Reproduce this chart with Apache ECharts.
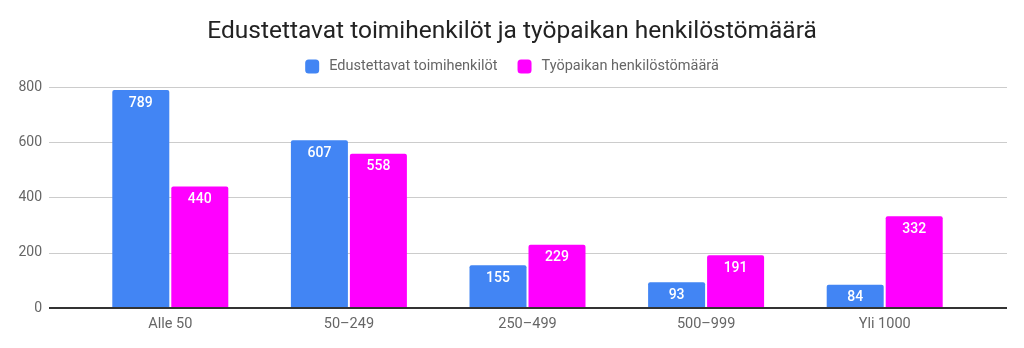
<!DOCTYPE html>
<html>
<head>
<meta charset="utf-8">
<script src="https://cdn.jsdelivr.net/npm/echarts@6/dist/echarts.min.js"></script>
<style>
  html, body { margin: 0; padding: 0; background: #fff; }
  #chart { width: 1024px; height: 348px; }
</style>
</head>
<body>
<div id="chart"></div>
<script>
const categories = ['Alle 50', '50–249', '250–499', '500–999', 'Yli 1000'];
const edustettavat = [789, 607, 155, 93, 84];
const henkilosto = [440, 558, 229, 191, 332];
const yTicks = [0, 200, 400, 600, 800];

const chart = echarts.init(document.getElementById('chart'), null, { renderer: 'canvas' });

const font = 'Roboto, "Noto Sans", sans-serif';
const labelStyle = {
  show: true,
  position: 'insideTop',
  distance: 6,
  color: '#fff',
  fontFamily: font,
  fontSize: 14,
  fontWeight: 500
};

chart.setOption({
  animation: false,
  title: {
    text: 'Edustettavat toimihenkilöt ja työpaikan henkilöstömäärä',
    left: 'center',
    top: 14,
    textStyle: { fontFamily: font, fontSize: 24.5, fontWeight: 'normal', color: '#222' }
  },
  legend: {
    top: 54,
    left: 'center',
    itemWidth: 14,
    itemHeight: 14,
    itemGap: 20,
    icon: 'roundRect',
    textStyle: { fontFamily: font, fontSize: 14.5, color: '#666', padding: [0, 0, 0, 5] },
    data: ['Edustettavat toimihenkilöt', 'Työpaikan henkilöstömäärä']
  },
  grid: [
    { left: 49, right: 17, top: 87, bottom: 40 },
    { left: 81, right: 50, top: 87, bottom: 40 }
  ],
  xAxis: [
    {
      gridIndex: 0, type: 'value', min: 0, max: 1,
      axisLine: { show: false }, axisTick: { show: false },
      axisLabel: { show: false }, splitLine: { show: false }
    },
    {
      gridIndex: 1, type: 'category', data: categories,
      axisLine: { show: false }, axisTick: { show: false },
      axisLabel: { color: '#666', fontFamily: font, fontSize: 14.5, margin: 9 }
    }
  ],
  yAxis: [
    {
      gridIndex: 0, type: 'value', min: yTicks[0], max: yTicks[yTicks.length - 1], interval: 200,
      axisLine: { show: false }, axisTick: { show: false },
      axisLabel: { color: '#666', fontFamily: font, fontSize: 14, margin: 7 },
      splitLine: { lineStyle: { color: '#ccc', width: 1 } }
    },
    {
      gridIndex: 1, type: 'value', min: yTicks[0], max: yTicks[yTicks.length - 1], interval: 200,
      axisLine: { show: false }, axisTick: { show: false },
      axisLabel: { show: false }, splitLine: { show: false }
    }
  ],
  series: [
    {
      type: 'line', xAxisIndex: 0, yAxisIndex: 0,
      data: [[0, 0], [1, 0]], symbol: 'none', silent: true,
      lineStyle: { color: '#333', width: 2 }, z: 5
    },
    {
      name: 'Edustettavat toimihenkilöt',
      type: 'bar', xAxisIndex: 1, yAxisIndex: 1,
      data: edustettavat,
      barWidth: 57, barGap: '3.5%',
      itemStyle: { color: '#4285f4', borderRadius: [2, 2, 0, 0] },
      label: labelStyle
    },
    {
      name: 'Työpaikan henkilöstömäärä',
      type: 'bar', xAxisIndex: 1, yAxisIndex: 1,
      data: henkilosto,
      barWidth: 57, barGap: '3.5%',
      itemStyle: { color: '#ff00ff', borderRadius: [2, 2, 0, 0] },
      label: labelStyle
    }
  ]
});
</script>
</body>
</html>
